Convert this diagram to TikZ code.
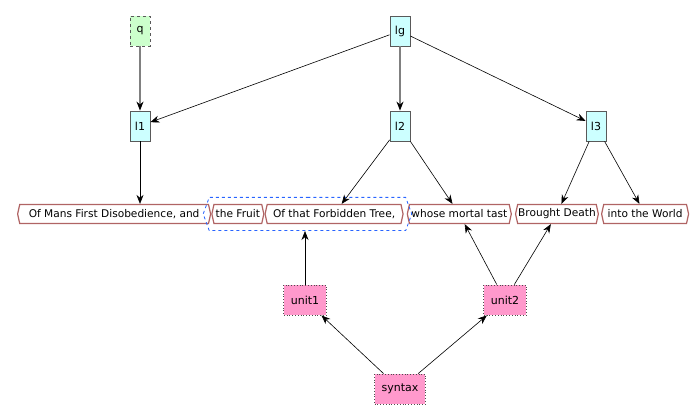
\documentclass[tikz,border=0pt]{standalone}
\usepackage{fontspec}
\setmainfont{DejaVu Sans}
\usepackage{tikz}
\usetikzlibrary{arrows.meta,positioning,fit}
\usetikzlibrary{shapes.symbols}

\definecolor{lcyan}{RGB}{204,255,255}
\definecolor{lgreen}{RGB}{204,255,204}
\definecolor{upink}{RGB}{255,153,204}
\definecolor{wred}{RGB}{176,100,100}
\definecolor{sblue}{RGB}{40,100,255}

\tikzset{
	lbox/.style={draw=black!65, line width=0.8pt, fill=lcyan, minimum width=20pt, minimum height=30pt, inner sep=2pt},
	qbox/.style={lbox, fill=lgreen, dashed},
	ubox/.style={draw=black!70, dotted, line width=0.8pt, fill=upink, minimum height=30pt, inner xsep=7pt},
	word/.style={signal, signal to=west and east, signal pointer angle=155, draw=wred, line width=1.2pt, fill=white, minimum height=19pt, inner xsep=0.5pt, inner ysep=0pt, font=\fontsize{10.6}{13}\selectfont},
	span/.style={signal, signal to=west and east, signal pointer angle=140, draw=sblue, dashed, line width=0.8pt, inner xsep=2pt, inner ysep=6.5pt},
	arr/.style={-{Stealth[length=9pt,width=7pt]}, line width=0.6pt},
	garr/.style={-{Stealth[length=9pt,width=7pt,black]}, draw=gray, line width=1.2pt},
}

\begin{document}
\begin{tikzpicture}[x=1pt, y=-1pt, font=\fontsize{11}{14}\selectfont]
\useasboundingbox (0,0) rectangle (700,419);
% top
\node[qbox] (q) at (140,31) {q};
\node[lbox] (lg) at (400,31) {lg};
\node[lbox] (l1) at (140,126) {l1};
\node[lbox] (l2) at (400,126) {l2};
\node[lbox] (l3) at (596,126) {l3};
% words
\node[word, anchor=west, minimum width=193pt] (w1) at (17,214) {Of Mans First Disobedience, and};
\node[word, right=0pt of w1, minimum width=52pt] (w2) {the Fruit};
\node[word, right=0pt of w2, minimum width=138pt] (w3) {Of that Forbidden Tree,};
\node[word, right=3pt of w3, minimum width=104pt] (w4) {whose mortal tast};
\node[word, right=3pt of w4, minimum width=82pt] (w5) {Brought Death};
\node[word, right=2pt of w5, minimum width=87pt] (w6) {into the World};
\node[span, fit=(w2)(w3)] (s1) {};
% bottom
\node[ubox] (unit1) at (305,300) {unit1};
\node[ubox] (unit2) at (505,300) {unit2};
\node[ubox] (syntax) at (400,389) {syntax};

\path[garr]
(q) edge (l1)
(lg) edge (l2)
;
\path[arr]
(lg) edge (l1)
(lg) edge (l3)
(l1) edge (l1 |- w1.north)
(l2) edge (w3)
(l2) edge (w4)
(l3) edge (w5)
(l3) edge (w6)
(unit1) edge (unit1 |- s1.south)
(unit2) edge (w4)
(unit2) edge (w5)
(syntax) edge (unit1)
(syntax) edge (unit2)
;
\end{tikzpicture}
\end{document}
